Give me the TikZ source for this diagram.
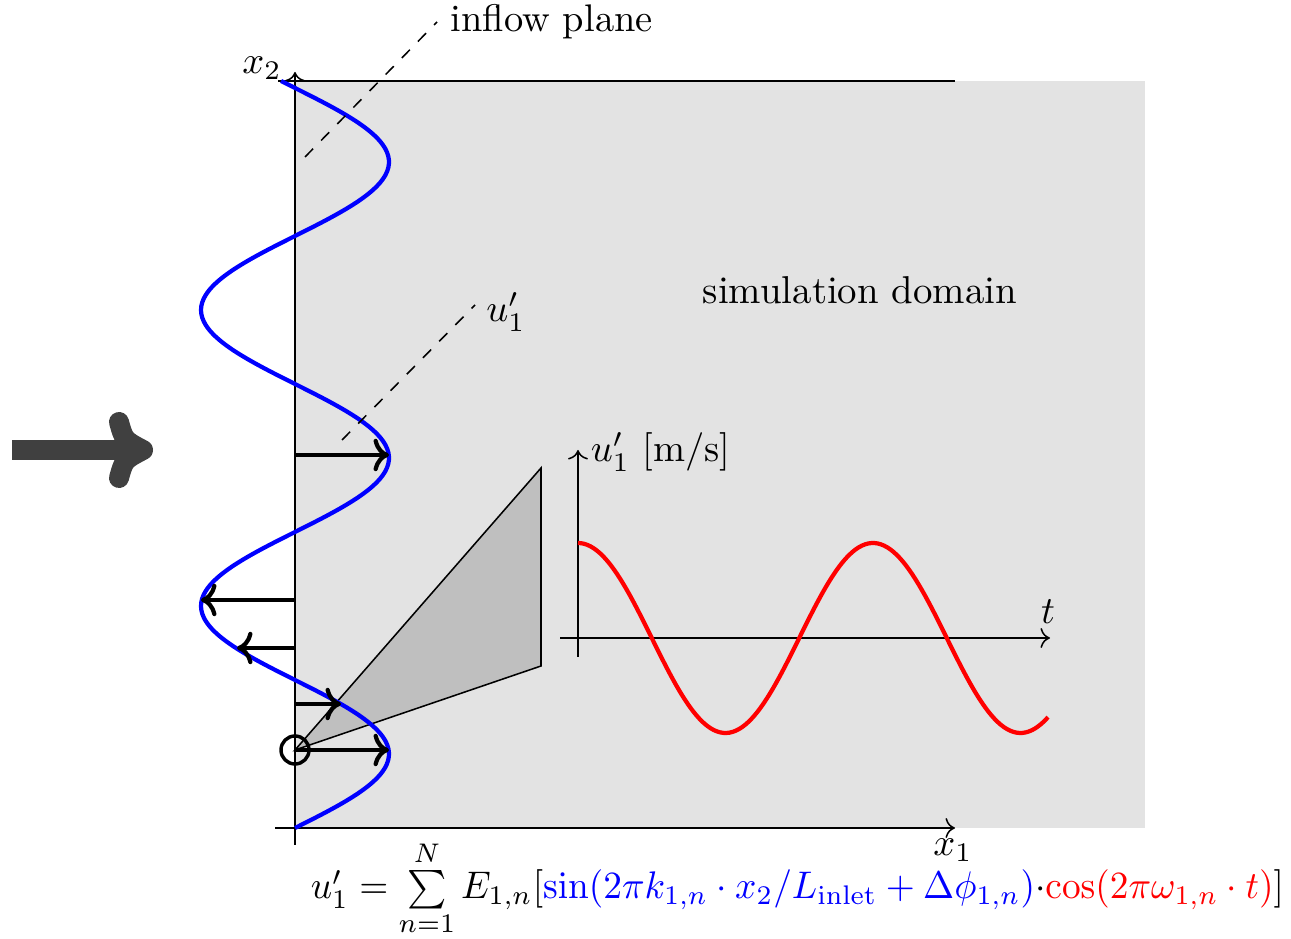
\documentclass[tikz,border=0pt]{standalone}
\usetikzlibrary{arrows.meta}
\begin{document}
\begin{tikzpicture}[x=0.26pt,y=-0.26pt,
  thinaxis/.style={line width=0.4pt,->},
  wave/.style={line width=1.1pt},
  vel/.style={line width=1.1pt,->},
  leader/.style={line width=0.4pt,dashed},
  lbl/.style={inner sep=0pt,font=\fontsize{10}{12}\selectfont}]
\useasboundingbox (0,0) rectangle (1291,939);
% domain
\fill[black!11] (295,81) rectangle (1145,828);
% named points
\coordinate (O) at (295,828);
\coordinate (Obot) at (295,845);
\coordinate (x2top) at (295,72);
\coordinate (x1left) at (275,828);
\coordinate (x1right) at (955,828);
\coordinate (topl) at (278,81);
\coordinate (topr) at (955,81);
\coordinate (P) at (295,750);
\coordinate (Q1) at (541,468);
\coordinate (Q2) at (541,666);
% probe cone
\draw[line width=0.4pt,fill=black!25] (P) -- (Q1) -- (Q2) -- cycle;
% axes
\draw[thinaxis] (Obot) -- (x2top);
\draw[thinaxis] (x1left) -- (x1right);
\draw[line width=0.4pt] (topl) -- (topr);
\node[lbl] (x2lab) at (262,68) {$x_2$};
\node[lbl] (x1lab) at (953,850) {$x_1$};
% inflow profile
\draw[wave,blue,domain=828:81,samples=200,smooth,variable=\t]
  plot ({295+94*sin((828-\t)*1.216216)},\t);
% velocity arrows
\coordinate (a1s) at (295,455); \coordinate (a1e) at (389,455);
\coordinate (a2s) at (295,600); \coordinate (a2e) at (201,600);
\coordinate (a3s) at (295,648); \coordinate (a3e) at (237,648);
\coordinate (a4s) at (295,704); \coordinate (a4e) at (341,704);
\coordinate (a5s) at (295,750); \coordinate (a5e) at (389,750);
\draw[vel] (a1s) -- (a1e);
\draw[vel] (a2s) -- (a2e);
\draw[vel] (a3s) -- (a3e);
\draw[vel] (a4s) -- (a4e);
\draw[vel] (a5s) -- (a5e);
\draw[line width=0.9pt] (P) circle[radius=14];
% leaders
\coordinate (l1s) at (305,157); \coordinate (l1e) at (437,22);
\coordinate (l2s) at (342,440); \coordinate (l2e) at (475,305);
\draw[leader] (l1s) -- (l1e);
\draw[leader] (l2s) -- (l2e);
\node[lbl,anchor=west] (inflow) at (450,22) {inflow plane};
\node[lbl] (ulab) at (506,312) {$u_1'$};
\node[lbl,font=\fontsize{10.1}{12}\selectfont] (simdom) at (860,290) {simulation domain};
% inset plot
\coordinate (ty0) at (578,657); \coordinate (ty1) at (578,450);
\coordinate (tx0) at (560,638); \coordinate (tx1) at (1050,638);
\draw[thinaxis] (ty0) -- (ty1);
\draw[thinaxis] (tx0) -- (tx1);
\node[lbl,anchor=west] (uaxis) at (590,452) {$u_1'$ [m/s]};
\node[lbl] (tlab) at (1048,612) {$t$};
\draw[wave,red,domain=0:470,samples=150,smooth,variable=\s]
  plot ({578+\s},{638-95*cos(\s*1.220339)});
% big inflow arrow
\coordinate (bs) at (12,450); \coordinate (be) at (146,450);
\coordinate (bt1) at (119,422); \coordinate (bt2) at (119,478);
\draw[black!75,line width=5.2pt] (bs) -- (be);
\draw[black!75,line width=5.2pt,line cap=round,line join=round]
  (bt1) .. controls (124,440) .. (143,450) .. controls (124,460) .. (bt2);
% formula
\node[lbl,anchor=base west] (formula) at (310,899) {\resizebox{253pt}{\height}{$u_1' = \sum\limits_{n=1}^{N} E_{1,n}[\textcolor{blue}{\sin(2\pi k_{1,n}\cdot x_2/L_{\mathrm{inlet}}+\Delta\phi_{1,n})}{\cdot}\textcolor{red}{\cos(2\pi\omega_{1,n}\cdot t)}]$}};
\end{tikzpicture}
\end{document}
